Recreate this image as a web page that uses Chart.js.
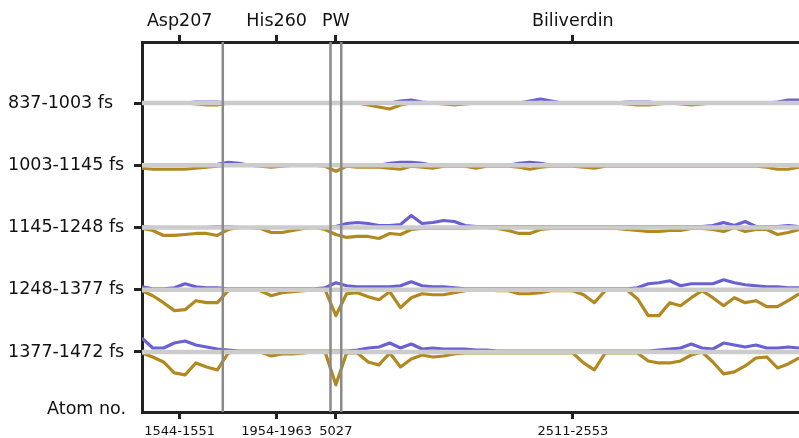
<!DOCTYPE html>
<html>
<head>
<meta charset="utf-8">
<script src="https://cdn.jsdelivr.net/npm/chart.js@4.4.1/dist/chart.umd.min.js"></script>
<style>
  html, body { margin: 0; padding: 0; background: #fff; }
</style>
</head>
<body>
<canvas id="chart" width="799" height="438"></canvas>
<script>
// atom groups along x (index of atom in the selection)
const groupNames = ['Asp207', 'His260', 'PW', 'Biliverdin'];
const groupAtoms = ['1544-1551', '1954-1963', '5027', '2511-2553'];
const groupCenters = [3.5, 12.5, 18, 40];
const groupBreaks = [7.5, 17.5, 18.5];
const nAtoms = 62;

// time windows, top to bottom
const windows = ['837-1003 fs', '1003-1145 fs', '1145-1248 fs', '1248-1377 fs', '1377-1472 fs'];
const rowLevels = [5, 4, 3, 2, 1];
const atomLabel = 'Atom no.';
const atomLabelLevel = 0.07;

// displacement per atom, one data unit = 0.016 of the row gap
// blue goes up from the row line, gold goes down
const blue1 = [0,0,0,0,0,1,1,1,
  0,0,0,0,0,0,0,0,0,0,
  0,
  0,0,0,0,0,2,3,1,0,0, 0,0,0,0,0,0,0,2,4,2, 0,0,0,0,0,0,1,1,1,0, 0,0,0,0,0,0,0,0,0,0, 1,3,3];
const gold1 = [0,0,0,0,0,1,2,2,
  0,0,0,0,0,0,0,0,0,0,
  0,
  0,0,2,4,6,2,0,0,0,1, 2,1,0,0,0,0,0,0,0,0, 0,0,0,0,0,0,1,2,2,1, 0,1,2,1,0,0,0,0,0,0, 0,0,0];

const blue2 = [0,0,0,0,0,0,0,1,
  3,2,0,0,0,0,0,0,0,0,
  0,
  0,0,0,0,2,3,3,2,0,0, 0,0,0,0,0,0,2,3,2,0, 0,0,0,0,0,0,0,0,0,0, 0,0,0,0,0,0,0,0,0,0, 0,0,0];
const gold2 = [3,4,4,4,4,3,2,1,
  0,0,0,1,2,1,0,0,0,1,
  6,
  1,2,2,2,3,4,1,2,3,1, 1,1,3,1,1,1,2,4,2,1, 1,1,2,3,1,1,1,1,1,1, 1,1,1,1,1,1,1,1,1,2, 4,4,2];

const blue3 = [1,0,0,0,0,0,0,1,
  1,0,0,0,0,0,0,0,0,0,
  1,
  4,5,4,2,2,3,12,4,5,7, 6,2,1,1,1,1,1,1,1,1, 1,1,1,1,1,1,1,1,1,1, 1,1,1,1,2,5,2,6,1,1, 1,2,1];
const gold3 = [1,3,8,8,7,6,6,8,
  2,0,0,1,5,5,3,1,0,2,
  7,
  10,9,9,11,6,7,2,1,1,1, 1,1,0,0,1,3,6,6,2,1, 1,1,1,1,1,1,2,3,4,4, 3,3,1,1,2,4,0,4,2,2, 7,5,2];

const blue4 = [3,1,1,2,6,3,2,2,
  1,1,1,1,1,1,1,1,1,2,
  7,
  4,3,3,3,3,4,8,4,3,3, 2,1,1,1,1,1,1,1,1,1, 1,1,1,1,1,1,1,2,6,7, 9,4,6,6,6,10,7,5,4,3, 3,2,2];
const gold4 = [1,6,13,21,20,11,13,13,
  1,0,0,1,6,3,2,1,0,0,
  26,
  4,3,7,10,2,18,8,4,5,5, 3,1,0,0,1,1,4,4,3,1, 1,1,5,13,1,0,0,9,26,26, 13,16,8,1,8,16,8,13,11,17, 17,11,4];

const blue5 = [14,4,4,9,11,7,5,3,
  2,1,1,1,1,1,1,1,1,1,
  1,
  1,2,4,5,9,4,8,3,4,3, 3,3,2,2,1,1,1,1,1,1, 1,1,1,1,1,1,1,1,1,2, 3,4,8,4,3,9,7,5,7,4, 4,5,4];
const gold5 = [1,5,10,21,23,11,15,18,
  1,0,0,0,4,2,2,1,0,0,
  33,
  1,1,10,13,1,15,7,3,5,4, 2,1,1,1,1,1,1,1,1,1, 1,1,11,18,1,1,1,1,9,11, 11,9,3,0,10,22,20,14,6,5, 16,12,6];

const blueRows = [blue1, blue2, blue3, blue4, blue5];
const goldRows = [gold1, gold2, gold3, gold4, gold5];
const unit = 0.016;

const yMin = 0.036;
const yMax = 5.98;

const blueColor = 'rgb(106, 96, 210)';
const goldColor = 'rgb(178, 136, 32)';
const frame = '#222222';

Chart.defaults.font.family = 'DejaVu Sans';
Chart.defaults.color = '#111111';

const datasets = [];

// vertical separators between the atom groups
groupBreaks.forEach(b => {
  datasets.push({
    data: [{ x: b, y: yMin }, { x: b, y: yMax }],
    borderColor: '#8a8a8a',
    borderWidth: 2.5,
    pointRadius: 0,
    order: 1
  });
});

rowLevels.forEach((level, r) => {
  // row reference line
  datasets.push({
    data: [{ x: 0, y: level }, { x: nAtoms - 1, y: level }],
    borderColor: '#cccccc',
    borderWidth: 4.5,
    pointRadius: 0,
    order: 2
  });
  datasets.push({
    data: blueRows[r].map((v, i) => ({ x: i, y: level + v * unit })),
    borderColor: blueColor,
    borderWidth: 3.2,
    borderJoinStyle: 'round',
    pointRadius: 0,
    tension: 0,
    order: 3
  });
  datasets.push({
    data: goldRows[r].map((v, i) => ({ x: i, y: level - v * unit })),
    borderColor: goldColor,
    borderWidth: 3.2,
    borderJoinStyle: 'round',
    pointRadius: 0,
    tension: 0,
    order: 3
  });
});

// "Atom no." sits right-aligned under the left-aligned window labels
const atomLabelPlugin = {
  id: 'atomLabel',
  afterDraw(chart) {
    const { ctx, chartArea, scales } = chart;
    ctx.save();
    ctx.font = '17.5px "DejaVu Sans"';
    ctx.fillStyle = '#111111';
    ctx.textAlign = 'right';
    ctx.textBaseline = 'middle';
    ctx.fillText(atomLabel, chartArea.left - 16, scales.y.getPixelForValue(atomLabelLevel));
    ctx.restore();
  }
};

new Chart(document.getElementById('chart'), {
  type: 'line',
  data: { datasets: datasets },
  plugins: [atomLabelPlugin],
  options: {
    responsive: false,
    animation: false,
    devicePixelRatio: 1,
    layout: { padding: { left: 8, right: 0, top: 0, bottom: 0 } },
    plugins: {
      legend: { display: false },
      tooltip: { enabled: false }
    },
    scales: {
      x: {
        type: 'linear',
        position: 'bottom',
        min: 0,
        max: nAtoms - 1,
        afterBuildTicks: s => { s.ticks = groupCenters.map(v => ({ value: v })); },
        afterFit: s => { s.height = 26; },
        ticks: {
          callback: (v, i) => groupAtoms[i],
          font: { size: 13 },
          padding: 5,
          maxRotation: 0,
          autoSkip: false
        },
        grid: { drawOnChartArea: false, tickLength: 7, tickWidth: 3, tickColor: frame },
        border: { color: frame, width: 3 }
      },
      x2: {
        type: 'linear',
        position: 'top',
        min: 0,
        max: nAtoms - 1,
        afterBuildTicks: s => { s.ticks = groupCenters.map(v => ({ value: v })); },
        afterFit: s => { s.height = 42; },
        ticks: {
          callback: (v, i) => groupNames[i],
          font: { size: 17.5 },
          padding: 3,
          maxRotation: 0,
          autoSkip: false
        },
        grid: { drawOnChartArea: false, tickLength: 7, tickWidth: 3, tickColor: frame },
        border: { color: frame, width: 3 }
      },
      y: {
        type: 'linear',
        min: yMin,
        max: yMax,
        afterBuildTicks: s => { s.ticks = rowLevels.map(v => ({ value: v })); },
        afterFit: s => { s.width = 134; },
        ticks: {
          callback: (v, i) => windows[i],
          font: { size: 17.5 },
          padding: 8,
          crossAlign: 'far',
          autoSkip: false
        },
        grid: { drawOnChartArea: false, tickLength: 8, tickWidth: 3, tickColor: frame },
        border: { color: frame, width: 3 }
      }
    }
  }
});
</script>
</body>
</html>
